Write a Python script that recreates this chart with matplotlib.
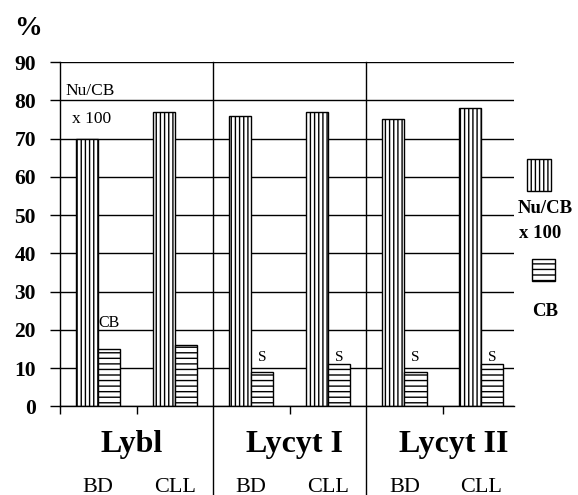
import matplotlib
matplotlib.use("Agg")
import matplotlib.pyplot as plt
import matplotlib.transforms as mtransforms
from matplotlib.patches import Rectangle
import numpy as np

# ── Data ───────────────────────────────────────────────────────────────
groups = ["Lybl", "Lycyt I", "Lycyt II"]
subgroups = ["BD", "CLL", "BD", "CLL", "BD", "CLL"]
nu_cb = [70, 77, 76, 77, 75, 78]  # Nu/CB x 100
cb = [15, 16, 9, 11, 9, 11]  # CB
y_ticks = [0, 10, 20, 30, 40, 50, 60, 70, 80, 90]

plt.rcParams["font.family"] = ["Liberation Serif", "DejaVu Serif"]
plt.rcParams["hatch.linewidth"] = 1.0
plt.rcParams["hatch.color"] = "black"

fig = plt.figure(figsize=(5.78, 4.95), dpi=100)
ax = fig.add_axes([0.1038, 0.1788, 0.8889 - 0.1038, 0.8747 - 0.1788])

x = np.arange(len(subgroups))
w = 0.29
ax.bar(x - w / 2, nu_cb, w, color="white", edgecolor="black", linewidth=1.0, hatch="||||")
ax.bar(x + w / 2, cb, w, color="white", edgecolor="black", linewidth=1.0, hatch="---")

ax.set_xlim(-0.5, 5.43)
ax.set_ylim(0, 90)
ax.set_yticks(y_ticks)
ax.set_yticklabels([str(v) for v in y_ticks], fontsize=15.5, fontweight="bold")
ax.tick_params(axis="y", length=7.2, width=1.0, pad=10, color="black")
ax.yaxis.grid(True, color="black", linewidth=1.0)
ax.set_axisbelow(True)

ax.set_xticks([-0.5, 0.5, 2.5, 4.5])
ax.set_xticklabels([])
ax.tick_params(axis="x", length=6, width=1.0, direction="out")

for side in ["top", "right"]:
    ax.spines[side].set_visible(False)
for side in ["left", "bottom"]:
    ax.spines[side].set_linewidth(1.0)

# section separators running down to the bottom of the figure
trans = mtransforms.blended_transform_factory(ax.transData, fig.transFigure)
for xs in [1.5, 3.5]:
    ax.plot([xs, xs], [0, 0.8747], color="black", linewidth=1.0,
            transform=trans, clip_on=False)

# group / subgroup labels
for name, xg in zip(groups, [0.43, 2.56, 4.64]):
    ax.text(xg, 0.087, name, transform=trans, ha="center", va="baseline",
            fontsize=23, fontweight="bold")
for i, name in enumerate(subgroups):
    ax.text(i, 0.007, name, transform=trans, ha="center", va="baseline", fontsize=16)

# in-plot annotations
ax.text(-0.43, 81.3, "Nu/CB", fontsize=12.5, ha="left", va="baseline")
ax.text(-0.34, 74, "x 100", fontsize=12.5, ha="left", va="baseline")
ax.text(x[0] + w / 2, 20.8, "CB", fontsize=11.5, ha="center", va="baseline")
for i in range(2, 6):
    ax.text(x[i] + w / 2, 12, "S", fontsize=11, ha="center", va="baseline")

fig.text(0.048, 0.929, "%", fontsize=20, fontweight="bold", ha="center", va="baseline")

# manual legend at the right
fig.add_artist(Rectangle((0.912, 0.614), 0.041, 0.065, transform=fig.transFigure,
                         facecolor="white", edgecolor="black", linewidth=1.0, hatch="||||"))
fig.add_artist(Rectangle((0.921, 0.432), 0.040, 0.045, transform=fig.transFigure,
                         facecolor="white", edgecolor="black", linewidth=1.0, hatch="---"))
fig.text(0.943, 0.570, "Nu/CB", fontsize=13.5, fontweight="bold", ha="center", va="baseline")
fig.text(0.935, 0.519, "x 100", fontsize=13.5, fontweight="bold", ha="center", va="baseline")
fig.text(0.943, 0.362, "CB", fontsize=13.5, fontweight="bold", ha="center", va="baseline")

fig.savefig("out.png", dpi=100, facecolor="white")
